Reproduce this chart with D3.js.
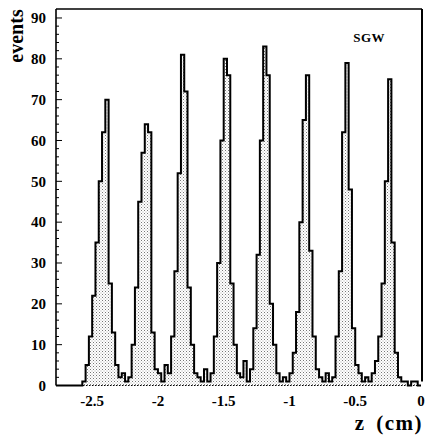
<!DOCTYPE html>
<html>
<head>
<meta charset="utf-8">
<script src="https://cdn.jsdelivr.net/npm/d3@7"></script>
<style>
  html, body { margin: 0; padding: 0; background: #fff; }
  svg { display: block; }
  text { font-family: "Liberation Serif", "Times New Roman", serif; font-weight: bold; fill: #000; }
</style>
</head>
<body>
<script>
// ---- data ----
const binLow = -2.775;     // lower edge of first bin (cm)
const binWidth = 0.025;    // bin width (cm)
const counts = [
  0,0,0,0,0,0,0,0,1,5,
  12,22,35,50,62,70,25,13,5,2,
  3,1,2,10,24,45,57,64,62,13,
  4,3,1,5,3,12,28,52,81,72,
  24,10,3,2,1,4,1,3,12,30,
  60,80,76,25,10,3,2,6,1,4,
  14,32,60,83,76,20,10,3,1,2,
  1,3,8,18,40,65,76,33,12,4,
  2,1,3,1,2,12,28,62,79,48,
  14,5,3,1,2,1,3,6,12,25,
  50,75,35,8,2,1,1,0,1,1,
  0
];
const xTicks = [-2.5, -2, -1.5, -1, -0.5, 0];
const xTickLabels = ["-2.5", "-2", "-1.5", "-1", "-0.5", "0"];
const yTicks = [0, 10, 20, 30, 40, 50, 60, 70, 80, 90];
const yMinorTicks = d3.range(0, 92, 2);
const xLabel = "z (cm)";
const yLabel = "events";
const tag = "SGW";

// ---- layout ----
const W = 425, H = 435;
const mL = 56, mR = 421, mT = 9, mB = 385.5;

const svg = d3.select("body").append("svg").attr("width", W).attr("height", H);

const x = d3.scaleLinear().domain([-2.775, 0]).range([mL, mR]);
const y = d3.scaleLinear().domain([0, 92.2]).range([mB, mT]);

// stipple pattern
const defs = svg.append("defs");
const pat = defs.append("pattern").attr("id", "stip")
  .attr("patternUnits", "userSpaceOnUse").attr("width", 3).attr("height", 3);
pat.append("rect").attr("width", 3).attr("height", 3).attr("fill", "#fff");
pat.append("rect").attr("x", 0).attr("y", 0).attr("width", 1).attr("height", 1).attr("fill", "#777");
pat.append("rect").attr("x", 1.5).attr("y", 1.5).attr("width", 1).attr("height", 1).attr("fill", "#aaa");

// histogram step points
const pts = [];
counts.forEach((c, i) => {
  const z0 = binLow + i * binWidth, z1 = z0 + binWidth;
  pts.push([z0, c]); pts.push([z1, c]);
});
const area = d3.area().x(d => x(d[0])).y0(y(0)).y1(d => y(d[1]));
const line = d3.line().x(d => x(d[0])).y(d => y(d[1]));

svg.append("path").datum(pts).attr("d", area).attr("fill", "url(#stip)");
svg.append("path").datum(pts).attr("d", line)
  .attr("fill", "none").attr("stroke", "#000").attr("stroke-width", 2)
  .attr("stroke-linejoin", "miter");

// frame
svg.append("line").attr("x1", mL).attr("x2", mL).attr("y1", mT).attr("y2", mB)
  .attr("stroke", "#000").attr("stroke-width", 1.6);
svg.append("line").attr("x1", mL).attr("x2", mR + 1).attr("y1", mT).attr("y2", mT)
  .attr("stroke", "#000").attr("stroke-width", 1.6);
svg.append("line").attr("x1", mR + 1).attr("x2", mR + 1).attr("y1", mT).attr("y2", mB - 4)
  .attr("stroke", "#000").attr("stroke-width", 2);
svg.append("line").attr("x1", mL).attr("x2", mR).attr("y1", mB).attr("y2", mB)
  .attr("stroke", "#000").attr("stroke-width", 1.2).attr("stroke-dasharray", "1.5,1.5");

// y ticks (inside)
svg.append("g").selectAll("line").data(yMinorTicks).join("line")
  .attr("x1", mL).attr("x2", d => mL + (d % 10 === 0 ? 6 : 3))
  .attr("y1", d => y(d)).attr("y2", d => y(d))
  .attr("stroke", "#000").attr("stroke-width", 1);

// y tick labels
svg.append("g").selectAll("text").data(yTicks).join("text")
  .attr("x", 46).attr("y", d => y(d)).attr("dy", "0.35em")
  .attr("text-anchor", "end").attr("font-size", 15)
  .text(d => d);

// x tick labels
svg.append("g").selectAll("text").data(xTicks).join("text")
  .attr("x", d => x(d)).attr("y", 406)
  .attr("text-anchor", "middle").attr("font-size", 15)
  .text((d, i) => xTickLabels[i]);

// axis titles
svg.append("text").attr("transform", "translate(23,36) rotate(-90)")
  .attr("text-anchor", "middle").attr("font-size", 20).text(yLabel);
svg.append("text").attr("x", 423).attr("y", 430).attr("text-anchor", "end")
  .attr("font-size", 21).attr("letter-spacing", 1.5).attr("word-spacing", 4).text(xLabel);

// tag
svg.append("text").attr("x", 385).attr("y", 42).attr("text-anchor", "end")
  .attr("font-size", 13).attr("letter-spacing", 0.5).text(tag);
</script>
</body>
</html>
